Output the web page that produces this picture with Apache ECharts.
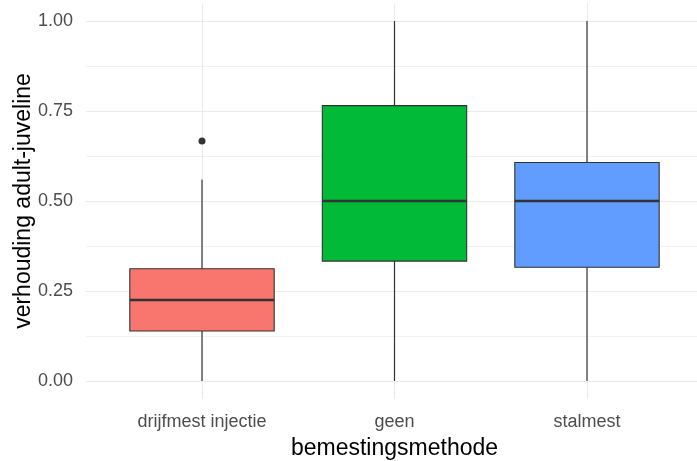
<!DOCTYPE html>
<html>
<head>
<meta charset="utf-8">
<script src="https://cdn.jsdelivr.net/npm/echarts@6/dist/echarts.min.js"></script>
<style>
html,body{margin:0;padding:0;background:#fff;}
#chart{width:697px;height:461px;}
</style>
</head>
<body>
<div id="chart"></div>
<script>
// ---- data ----
var categories = ['drijfmest injectie', 'geen', 'stalmest'];
var whiskerLow = [0.0, 0.0, 0.0];
var q1 = [0.139, 0.333, 0.316];
var median = [0.225, 0.5, 0.5];
var q3 = [0.312, 0.765, 0.607];
var whiskerHigh = [0.560, 1.0, 1.0];
var outlierCategory = ['drijfmest injectie'];
var outlierValue = [0.667];
var yTicks = [0, 0.25, 0.5, 0.75, 1.0];
var fills = ['#F8766D', '#00BA38', '#619CFF'];

var boxData = categories.map(function (c, i) {
  return [i, whiskerLow[i], q1[i], median[i], q3[i], whiskerHigh[i]];
});
var outlierData = outlierCategory.map(function (c, i) {
  return [categories.indexOf(c), outlierValue[i]];
});

var chart = echarts.init(document.getElementById('chart'));
var FONT = '"Liberation Sans", Arial, sans-serif';
var GRID = '#ebebeb';

function renderBox(params, api) {
  var idx = api.value(0);
  var lo = api.coord([idx, api.value(1)]);
  var b1 = api.coord([idx, api.value(2)]);
  var md = api.coord([idx, api.value(3)]);
  var b3 = api.coord([idx, api.value(4)]);
  var hi = api.coord([idx, api.value(5)]);
  var band = api.size([1, 0])[0];
  var hw = band * 0.375;
  var x = lo[0];
  var stroke = '#333333';
  return {
    type: 'group',
    children: [
      { type: 'line', shape: { x1: x, y1: b3[1], x2: x, y2: hi[1] }, style: { stroke: stroke, lineWidth: 1.2 } },
      { type: 'line', shape: { x1: x, y1: b1[1], x2: x, y2: lo[1] }, style: { stroke: stroke, lineWidth: 1.2 } },
      { type: 'rect', shape: { x: x - hw, y: b3[1], width: hw * 2, height: b1[1] - b3[1] },
        style: { fill: fills[params.dataIndex], stroke: stroke, lineWidth: 1.1 } },
      { type: 'line', shape: { x1: x - hw, y1: md[1], x2: x + hw, y2: md[1] }, style: { stroke: stroke, lineWidth: 2.4 } }
    ]
  };
}

var option = {
  backgroundColor: '#ffffff',
  animation: false,
  grid: [
    { left: 86, right: 0, top: 21, bottom: 80, containLabel: false, outerBoundsMode: 'none' },
    { left: 202, right: 110, top: 3, bottom: 62, containLabel: false, outerBoundsMode: 'none' }
  ],
  xAxis: [
    { gridIndex: 0, type: 'value', show: false, min: 0, max: 1 },
    {
      gridIndex: 1, type: 'category', data: categories, boundaryGap: false,
      axisLine: { show: false }, axisTick: { show: false },
      splitLine: { show: true, lineStyle: { color: GRID, width: 1.1 } },
      axisLabel: { fontFamily: FONT, fontSize: 18, color: '#4d4d4d', margin: 14 },
      name: 'bemestingsmethode', nameLocation: 'middle', nameGap: 38, nameMoveOverlap: false,
      nameTextStyle: { fontFamily: FONT, fontSize: 23, color: '#000000' }
    }
  ],
  yAxis: [
    {
      gridIndex: 0, type: 'value', min: yTicks[0], max: yTicks[yTicks.length - 1], interval: 0.25,
      axisLine: { show: false }, axisTick: { show: false },
      splitLine: { show: true, lineStyle: { color: GRID, width: 1.1 } },
      minorTick: { show: false, splitNumber: 2 },
      minorSplitLine: { show: true, lineStyle: { color: '#f1f1f1', width: 1 } },
      axisLabel: { fontFamily: FONT, fontSize: 18, color: '#4d4d4d', margin: 13,
        formatter: function (v) { return v.toFixed(2); } },
      name: 'verhouding adult-juveline', nameLocation: 'middle', nameGap: 51, nameRotate: 90,
      nameMoveOverlap: false,
      nameTextStyle: { fontFamily: FONT, fontSize: 23, color: '#000000' }
    },
    { gridIndex: 1, type: 'value', show: false, min: -0.05, max: 1.05 }
  ],
  series: [
    {
      type: 'custom', xAxisIndex: 1, yAxisIndex: 1,
      renderItem: renderBox, data: boxData,
      encode: { x: 0, y: [1, 2, 3, 4, 5] }, clip: false, z: 3
    },
    {
      type: 'scatter', xAxisIndex: 1, yAxisIndex: 1, data: outlierData,
      symbol: 'circle', symbolSize: 7, itemStyle: { color: '#333333', opacity: 1 }, z: 4
    }
  ]
};
chart.setOption(option);
</script>
</body>
</html>
